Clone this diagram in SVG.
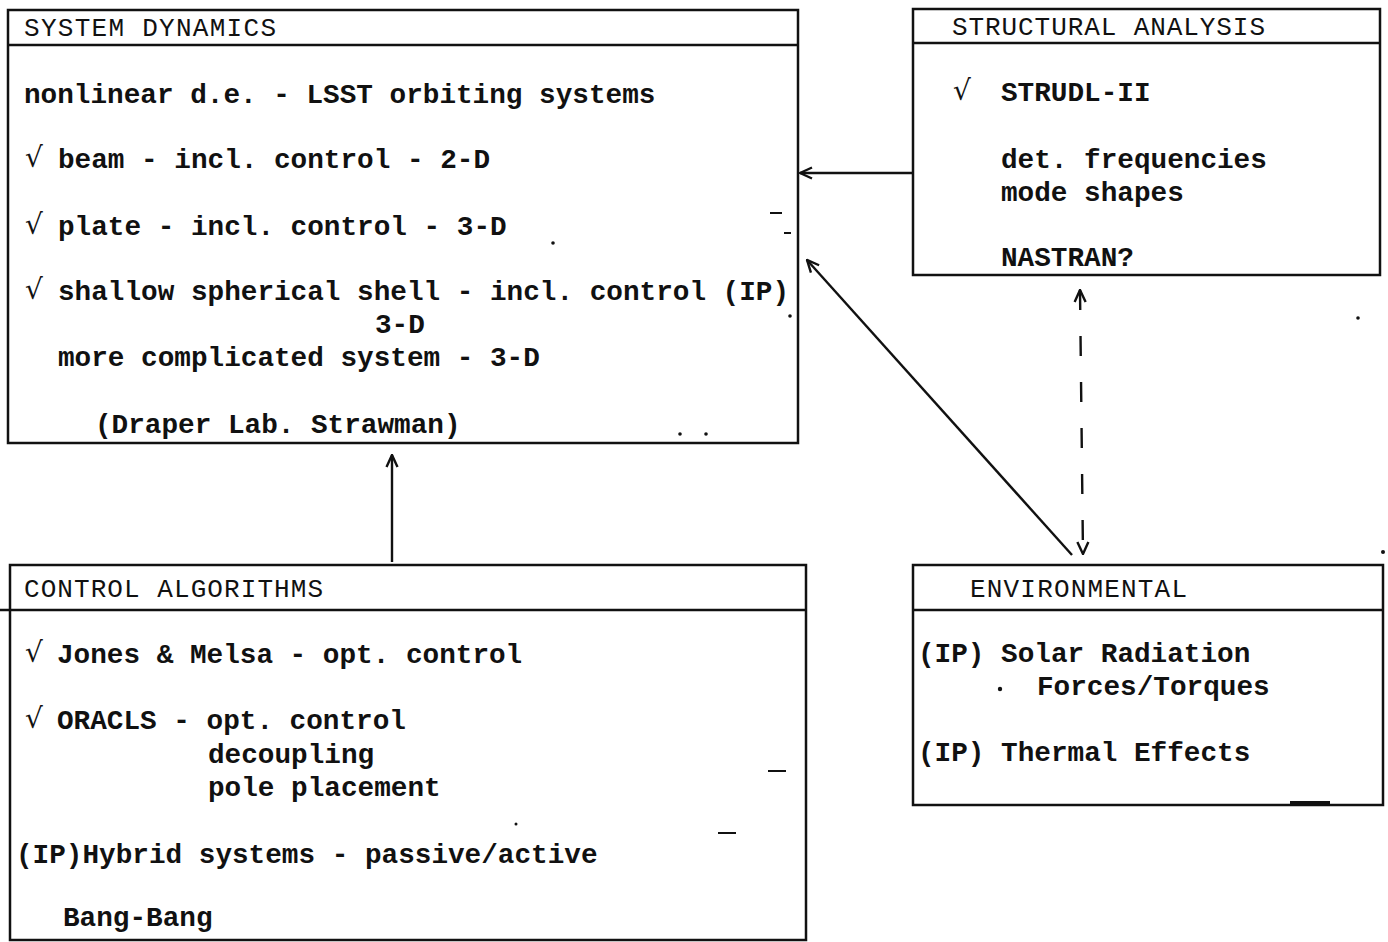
<svg xmlns="http://www.w3.org/2000/svg" width="1388" height="942" viewBox="0 0 1388 942">
  <style>
    .box { fill: none; stroke: #111; stroke-width: 2.5; }
    .rule { stroke: #111; stroke-width: 2.5; }
    .hdr { font-family: "Liberation Mono", "DejaVu Sans Mono", monospace; font-size: 26px; fill: #111; }
    .txt { font-family: "Liberation Mono", "DejaVu Sans Mono", monospace; font-size: 27.7px; font-weight: bold; fill: #111; }
    .chk { font-family: "DejaVu Sans", sans-serif; font-size: 28px; fill: #111; }
    .wire { fill: none; stroke: #111; stroke-width: 2.4; }
    .speck { fill: #111; }
  </style>
  <defs>
    <marker id="head" viewBox="0 0 14 14" refX="13" refY="7" markerWidth="14" markerHeight="14" markerUnits="userSpaceOnUse" orient="auto-start-reverse">
      <path d="M1,1.5 L13,7 L1,12.5" fill="none" stroke="#111" stroke-width="2.4"/>
    </marker>
  </defs>

  <rect width="1388" height="942" fill="#fff"/>

  <!-- System Dynamics -->
  <g id="system-dynamics">
    <rect class="box" x="8" y="10" width="790" height="433"/>
    <line class="rule" x1="8" y1="45" x2="798" y2="45"/>
    <text class="hdr" x="24" y="36" textLength="252">SYSTEM DYNAMICS</text>
    <text class="txt" x="24" y="103">nonlinear d.e. - LSST orbiting systems</text>
    <text class="chk" x="25" y="167">√</text>
    <text class="txt" x="58" y="168">beam - incl. control - 2-D</text>
    <text class="chk" x="25" y="234">√</text>
    <text class="txt" x="58" y="235">plate - incl. control - 3-D</text>
    <text class="chk" x="25" y="299">√</text>
    <text class="txt" x="58" y="300">shallow spherical shell - incl. control (IP)</text>
    <text class="txt" x="375" y="333">3-D</text>
    <text class="txt" x="58" y="366">more complicated system - 3-D</text>
    <text class="txt" x="95" y="433">(Draper Lab. Strawman)</text>
  </g>

  <!-- Structural Analysis -->
  <g id="structural-analysis">
    <rect class="box" x="913" y="9" width="467" height="266"/>
    <line class="rule" x1="913" y1="43" x2="1380" y2="43"/>
    <text class="hdr" x="952" y="35" textLength="313">STRUCTURAL ANALYSIS</text>
    <text class="chk" x="953" y="100">√</text>
    <text class="txt" x="1001" y="101">STRUDL-II</text>
    <text class="txt" x="1001" y="168">det. frequencies</text>
    <text class="txt" x="1001" y="201">mode shapes</text>
    <text class="txt" x="1001" y="266">NASTRAN?</text>
  </g>

  <!-- Control Algorithms -->
  <g id="control-algorithms">
    <rect class="box" x="10" y="565" width="796" height="375"/>
    <line class="rule" x1="0" y1="610" x2="806" y2="610"/>
    <text class="hdr" x="24" y="597" textLength="299">CONTROL ALGORITHMS</text>
    <text class="chk" x="25" y="662">√</text>
    <text class="txt" x="57" y="663">Jones &amp; Melsa - opt. control</text>
    <text class="chk" x="25" y="728">√</text>
    <text class="txt" x="57" y="729">ORACLS - opt. control</text>
    <text class="txt" x="208" y="763">decoupling</text>
    <text class="txt" x="208" y="796">pole placement</text>
    <text class="txt" x="16" y="863">(IP)Hybrid systems - passive/active</text>
    <text class="txt" x="63" y="926">Bang-Bang</text>
  </g>

  <!-- Environmental -->
  <g id="environmental">
    <rect class="box" x="913" y="565" width="470" height="240"/>
    <line class="rule" x1="913" y1="610" x2="1383" y2="610"/>
    <text class="hdr" x="970" y="597" textLength="217">ENVIRONMENTAL</text>
    <text class="txt" x="918" y="662">(IP) Solar Radiation</text>
    <circle class="speck" cx="1000" cy="689" r="2.2"/>
    <text class="txt" x="1037" y="695">Forces/Torques</text>
    <text class="txt" x="918" y="761">(IP) Thermal Effects</text>
  </g>

  <!-- Connectors -->
  <g id="connectors">
    <line class="wire" x1="913" y1="173" x2="800" y2="173" marker-end="url(#head)"/>
    <line class="wire" x1="1072" y1="555" x2="807" y2="260" marker-end="url(#head)"/>
    <line class="wire" x1="1080" y1="290" x2="1083" y2="554" stroke-dasharray="20 26" marker-start="url(#head)" marker-end="url(#head)"/>
    <line class="wire" x1="392" y1="562" x2="392" y2="455" marker-end="url(#head)"/>
  </g>

  <!-- stray typewriter marks -->
  <g id="marks" class="speck">
    <rect x="770" y="212" width="12" height="2"/>
    <rect x="784" y="232" width="7" height="2"/>
    <circle cx="553" cy="243" r="1.8"/>
    <circle cx="790" cy="316" r="1.8"/>
    <circle cx="680" cy="434" r="1.8"/>
    <circle cx="706" cy="434" r="1.8"/>
    <rect x="768" y="770" width="18" height="2"/>
    <rect x="718" y="832" width="18" height="2"/>
    <circle cx="516" cy="824" r="1.5"/>
    <circle cx="1358" cy="318" r="1.8"/>
    <circle cx="1383" cy="552" r="2"/>
    <rect x="1290" y="801" width="40" height="3"/>
  </g>
</svg>
